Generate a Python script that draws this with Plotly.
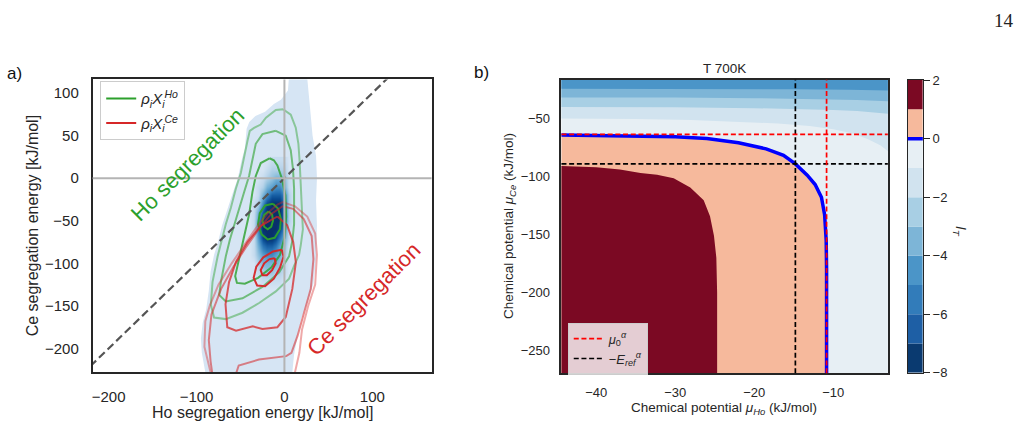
import plotly.graph_objects as go

W, H = 1020, 433
FONT = "Liberation Sans, Arial, sans-serif"
INK = "#262626"

# ---------------- panel a) data (kJ/mol) ----------------
A_XRANGE = [-218.2, 167.4]
A_YRANGE = [-227.5, 116.0]
A_XTICKS = [-200, -100, 0, 100]
A_YTICKS = [-200, -150, -100, -50, 0, 50, 100]
DIAG_X = [-260, 200]                      # reference line y = x

# outline of the populated histogram region
BLOB = [(5, 117), (4, 103), (-4, 92), (-12, 87), (-22, 78), (-33, 73), (-40, 66), (-43, 58),
        (-45, 35), (-49, 20), (-53, 0), (-59, -18), (-65, -37), (-71, -56), (-75, -73),
        (-80, -90), (-84, -110), (-86, -132), (-89, -154), (-93, -170), (-95, -188),
        (-94, -205), (-90, -228), (-90, -235), (9, -235), (9, -228), (11, -207), (15, -185),
        (19, -165), (26, -147), (33, -124), (36, -94), (37, -56), (36, -26), (37, 0),
        (36, 26), (32, 50), (30, 73), (28, 95), (26, 117)]

# dense core of the histogram (relative density, 0..10)
CORE_X = [-45, -40, -35, -30, -25, -20, -15, -10, -5, 0, 5, 10]
CORE_Y = [20, 10, 0, -10, -20, -30, -40, -50, -60, -70, -80, -90, -100, -110, -120, -130]
CORE_Z = [
    [0, 0, 0, 0, 0, 0, 1, 1, 1, 1, 0, 0],
    [0, 0, 0, 0, 0, 1, 2, 2, 2, 2, 0, 0],
    [0, 0, 0, 0, 1, 2, 3, 4, 4, 3, 1, 0],
    [0, 0, 0, 1, 2, 4, 5, 6, 6, 4, 1, 0],
    [0, 0, 0, 1, 4, 6, 8, 8, 8, 6, 2, 0],
    [0, 0, 1, 2, 6, 9, 10, 10, 10, 7, 2, 0],
    [0, 0, 1, 4, 8, 10, 10, 10, 10, 7, 2, 0],
    [0, 0, 1, 5, 10, 10, 10, 10, 10, 7, 2, 0],
    [0, 0, 1, 6, 10, 10, 10, 10, 9, 6, 1, 0],
    [0, 0, 1, 5, 9, 10, 10, 9, 7, 4, 1, 0],
    [0, 0, 1, 4, 7, 8, 8, 7, 5, 3, 0, 0],
    [0, 0, 1, 3, 5, 6, 6, 5, 4, 2, 0, 0],
    [0, 0, 0, 2, 4, 4, 4, 4, 3, 1, 0, 0],
    [0, 0, 0, 1, 2, 3, 3, 2, 2, 1, 0, 0],
    [0, 0, 0, 0, 1, 1, 1, 1, 1, 0, 0, 0],
    [0, 0, 0, 0, 0, 0, 0, 0, 0, 0, 0, 0],
]

# KDE contour lines of rho_i X_i^Ho (outer -> inner)
HO_C1 = [(-1.5, 81), (-9.8, 80), (-21, 71), (-27, 63), (-34.5, 59), (-39.4, 55.6), (-42, 44),
         (-45.8, 25), (-49.6, 6), (-55.3, -12.5), (-61, -35), (-66.7, -54), (-72.3, -78.6),
         (-76, -92), (-81.8, -122), (-83.7, -148.5), (-80, -163.6), (-66.7, -165.5),
         (-47.7, -158), (-28.8, -146.6), (-9.8, -133), (5.3, -118), (11, -103), (16.7, -90),
         (18.6, -78.6), (21, -60), (20.5, -50), (19.7, -27.6), (18.6, -4.9), (17.4, 17.8),
         (15.9, 40.4), (12.9, 59.3), (7.2, 74.5), (-1.5, 81)]
HO_C2 = [(-9.8, 55.6), (-25, 51.8), (-32.6, 40.4), (-36.4, 21.5), (-40.2, 2.6), (-45.8, -16.3),
         (-51.5, -35.1), (-57.2, -54), (-62, -72), (-66.7, -91.8), (-72.3, -122), (-74.2, -137),
         (-66.7, -144.7), (-47.7, -141), (-25, -127.7), (-6, -110.7), (5.3, -91.8), (9.1, -73),
         (11, -54), (11, -35), (11, -12.5), (9.8, 10.2), (7.2, 32.9), (1.5, 49.9), (-9.8, 55.6)]
HO_C3 = [(-17, 23.4), (-26.9, 17.8), (-32.6, 2.6), (-36.4, -16.3), (-40.2, -42.7), (-46, -70),
         (-52, -95), (-56, -115), (-54, -123), (-45, -124), (-30, -117), (-15, -105), (-5, -90),
         (0, -70), (2, -45), (1, -20), (-3, 0), (-8, 15), (-12, 21), (-17, 23.4)]
HO_C4 = [(-13, -30), (-7, -36), (-4, -48), (-5, -60), (-11, -70), (-19, -72), (-26, -66),
         (-30, -54), (-28, -41), (-22, -32), (-13, -30)]
HO_C5 = [(-18, -39), (-14, -43), (-13, -50), (-15, -57), (-19, -60), (-23, -57), (-25, -50),
         (-23, -43), (-18, -39)]

# KDE contour lines of rho_i X_i^Ce (outer -> inner)
CE_C1 = [(-84, -245), (-84, -228), (-91, -198), (-90, -168), (-85, -150), (-75, -125), (-60, -100),
         (-45, -78), (-30, -55), (-18, -40), (-8, -31), (-2, -28), (12, -33), (26, -45), (35, -65),
         (37, -90), (35, -125), (27, -150), (20, -178), (17, -205), (12, -228), (10, -245)]
CE_C2 = [(-80, -245), (-84, -215), (-86, -190), (-83, -160), (-72, -130), (-58, -104), (-43, -80),
         (-28, -58), (-15, -42), (-2, -33), (10, -36), (22, -48), (31, -68), (33, -95), (30, -130),
         (22, -160), (15, -185), (8, -205), (2, -209), (-29, -213), (-52, -220), (-60, -245)]
CE_C3 = [(-8, -45), (3, -55), (10, -75), (13, -99), (9, -130), (1.5, -163), (-8, -175), (-25, -177),
         (-36, -174), (-55, -179), (-65, -175), (-67, -148), (-63, -122), (-55, -98), (-42, -75),
         (-27, -56), (-8, -45)]
CE_C4 = [(-3, -84), (-1, -92), (-5, -105), (-12, -118), (-22, -127), (-31, -126), (-35, -117),
         (-32, -104), (-24, -93), (-13, -86), (-3, -84)]
CE_C5 = [(-11, -94), (-10, -100), (-14, -108), (-20, -114), (-25, -114), (-27, -108), (-23, -100),
         (-17, -95), (-11, -94)]

HO_ALPHA = [0.45, 0.6, 0.8, 0.95, 1.0]
CE_ALPHA = [0.4, 0.55, 0.75, 0.95, 1.0]

# ---------------- panel b) data (kJ/mol) ----------------
B_XRANGE = [-44.4, -3.1]
B_YRANGE = [-269.3, -16.8]
B_XTICKS = [-40, -30, -20, -10]
B_YTICKS = [-250, -200, -150, -100, -50]
MU0 = {"Ho": -10.85, "Ce": -63.9}      # mu_0^alpha
EREF = {"Ho": -14.8, "Ce": -89.3}      # -E_ref^alpha

# contour lines of I_T
IT_P1 = [(-46, -90.9), (-44.4, -91), (-40, -92.2), (-37, -94), (-34.4, -97), (-32.3, -98.6),
         (-30.2, -101.7), (-28.1, -109.5), (-26.4, -120.5), (-25.6, -134.4), (-25.1, -151),
         (-24.8, -170), (-24.7, -200), (-24.7, -280)]
IT_0 = [(-46, -64.2), (-44.4, -64.3), (-40, -64.6), (-35, -65.1), (-30, -65.9), (-26, -67.4),
        (-22, -71), (-18.5, -76.3), (-16.3, -81.8), (-14.8, -89.3), (-13.3, -99), (-12.3, -107),
        (-11.5, -118), (-11.1, -133), (-10.9, -155), (-10.85, -180), (-10.85, -280)]
IT_M1 = [(-46, -50), (-44.4, -50), (-35, -50.6), (-28, -51.5), (-22, -52.8), (-17, -54.5),
         (-13, -56.7), (-10, -59.5), (-7.5, -63), (-5.6, -68), (-4, -73.5), (-3.1, -78), (-2, -84)]
IT_M2 = [(-46, -40.3), (-44.4, -40.3), (-30, -40.6), (-20, -41.3), (-14, -42), (-10, -42.8),
         (-7, -43.8), (-5, -44.8), (-3.1, -46), (-2, -46.8)]
IT_M3 = [(-46, -32), (-44.4, -32), (-30, -32.2), (-20, -32.7), (-12, -33.4), (-7, -34.2),
         (-3.1, -35.3), (-2, -35.6)]
IT_M4 = [(-46, -24.5), (-44.4, -24.5), (-25, -24.7), (-15, -25), (-8, -25.5), (-3.1, -26.1),
         (-2, -26.3)]

# colour levels of I_T
LEVELS = [-8, -7, -6, -5, -4, -3, -2, -1, 0, 1, 2]
LEVEL_COLORS = ["rgb(10,58,112)", "rgb(30,95,165)", "rgb(50,124,186)", "rgb(75,149,200)",
                "rgb(125,181,215)", "rgb(168,207,228)", "rgb(209,227,239)", "rgb(231,239,244)",
                "rgb(246,185,156)", "rgb(123,9,35)"]
CB_TICKS = [-8, -6, -4, -2, 0, 2]


def px(x):
    return x / W


def py(y):
    return 1 - y / H


def col(p, i):
    return [q[i] for q in p]


def lvl_color(lo):
    return LEVEL_COLORS[LEVELS.index(lo)]


fig = go.Figure()

# ---------- panel a ----------
blob_path = "M " + " L ".join(f"{x},{y}" for x, y in BLOB) + " Z"
fig.add_shape(type="path", path=blob_path, xref="x", yref="y", fillcolor="rgb(214,229,244)",
              line=dict(width=0), layer="below")
order = sorted(range(len(CORE_Y)), key=lambda i: CORE_Y[i])
fig.add_trace(go.Heatmap(x=CORE_X, y=[CORE_Y[i] for i in order], z=[CORE_Z[i] for i in order],
                         zmin=0, zmax=10, zsmooth="best", showscale=False, hoverinfo="skip",
                         colorscale=[[0, "rgb(214,229,244)"], [0.15, "rgb(190,215,236)"],
                                     [0.3, "rgb(150,196,223)"], [0.45, "rgb(105,170,212)"],
                                     [0.6, "rgb(66,140,195)"], [0.75, "rgb(33,107,175)"],
                                     [0.88, "rgb(10,75,145)"], [1, "rgb(8,48,107)"]],
                         xaxis="x", yaxis="y"))

for shp in [dict(x0=0, x1=0, y0=0, y1=1, xref="x", yref="y domain"),
            dict(x0=0, x1=1, y0=0, y1=0, xref="x domain", yref="y")]:
    fig.add_shape(type="line", line=dict(color="#b4b4b4", width=2), layer="above", **shp)

for i, c in enumerate([HO_C1, HO_C2, HO_C3, HO_C4, HO_C5]):
    fig.add_trace(go.Scatter(x=col(c, 0), y=col(c, 1), mode="lines",
                             line=dict(color=f"rgba(44,160,44,{HO_ALPHA[i]})", width=2),
                             name="<i>ρ<sub>i</sub>X<sub>i</sub><sup>Ho</sup></i>",
                             showlegend=(i == 4), legend="legend", legendgroup="ho",
                             hoverinfo="skip", xaxis="x", yaxis="y"))
for i, c in enumerate([CE_C1, CE_C2, CE_C3, CE_C4, CE_C5]):
    fig.add_trace(go.Scatter(x=col(c, 0), y=col(c, 1), mode="lines",
                             line=dict(color=f"rgba(214,39,40,{CE_ALPHA[i]})", width=2),
                             name="<i>ρ<sub>i</sub>X<sub>i</sub><sup>Ce</sup></i>",
                             showlegend=(i == 4), legend="legend", legendgroup="ce",
                             hoverinfo="skip", xaxis="x", yaxis="y"))

fig.add_trace(go.Scatter(x=DIAG_X, y=DIAG_X, mode="lines",
                         line=dict(color="#555555", width=2.2, dash="8px,4px"),
                         showlegend=False, hoverinfo="skip", xaxis="x", yaxis="y"))

# ---------- panel b ----------
fig.add_shape(type="rect", xref="x2 domain", yref="y2 domain", x0=0, x1=1, y0=0, y1=1,
              fillcolor=lvl_color(-1), line=dict(width=0), layer="below")
top = B_YRANGE[1] + 10
for c, lo in [(IT_M1, -2), (IT_M2, -3), (IT_M3, -4), (IT_M4, -5)]:
    xs = col(c, 0) + [c[-1][0], c[0][0]]
    ys = col(c, 1) + [top, top]
    fig.add_trace(go.Scatter(x=xs, y=ys, mode="lines", fill="toself", fillcolor=lvl_color(lo),
                             line=dict(width=0), showlegend=False, hoverinfo="skip",
                             xaxis="x2", yaxis="y2"))
for c, lo in [(IT_0, 0), (IT_P1, 1)]:
    xs = col(c, 0) + [c[0][0]]
    ys = col(c, 1) + [c[-1][1]]
    fig.add_trace(go.Scatter(x=xs, y=ys, mode="lines", fill="toself", fillcolor=lvl_color(lo),
                             line=dict(width=0), showlegend=False, hoverinfo="skip",
                             xaxis="x2", yaxis="y2"))
fig.add_trace(go.Scatter(x=col(IT_0, 0), y=col(IT_0, 1), mode="lines",
                         line=dict(color="#0000ff", width=3.5), showlegend=False,
                         hoverinfo="skip", xaxis="x2", yaxis="y2"))

DASH = "5px,2.7px"
for key, color, name in [("EREF", "#000000", "−<i>E</i><sub><i>ref</i></sub><sup><i>α</i></sup>"),
                         ("MU0", "#ff0000", "<i>μ</i><sub>0</sub><sup><i>α</i></sup>")]:
    vals = EREF if key == "EREF" else MU0
    fig.add_shape(type="line", xref="x2", yref="y2 domain", x0=vals["Ho"], x1=vals["Ho"], y0=0, y1=1,
                  line=dict(color=color, width=1.7, dash=DASH), layer="above")
    fig.add_shape(type="line", xref="x2 domain", yref="y2", x0=0, x1=1, y0=vals["Ce"], y1=vals["Ce"],
                  line=dict(color=color, width=1.7, dash=DASH), layer="above",
                  showlegend=True, name=name, legend="legend2",
                  legendrank=(1 if key == "MU0" else 2))

# ---------- colourbar ----------
fig.add_trace(go.Bar(x=[0] * (len(LEVELS) - 1), y=[LEVELS[i + 1] - LEVELS[i] for i in range(len(LEVELS) - 1)],
                     base=LEVELS[:-1], marker=dict(color=LEVEL_COLORS, line=dict(width=0)),
                     width=1, showlegend=False, hoverinfo="skip", xaxis="x3", yaxis="y3"))
fig.add_shape(type="line", xref="x3 domain", yref="y3", x0=0, x1=1, y0=0, y1=0,
              line=dict(color="#0000ff", width=3.5), layer="above")

axis_common = dict(showgrid=False, zeroline=False, showline=True, mirror=True,
                   linecolor=INK, linewidth=1.6, ticks="outside", tickcolor="rgba(0,0,0,0)")

fig.update_layout(
    width=W, height=H, margin=dict(l=0, r=0, t=0, b=0),
    paper_bgcolor="white", plot_bgcolor="rgba(0,0,0,0)",
    barmode="overlay",
    xaxis=dict(domain=[px(91.7), px(431)], range=A_XRANGE, tickvals=A_XTICKS, anchor="y",
               ticklen=10, tickfont=dict(family=FONT, color=INK, size=15), **axis_common),
    yaxis=dict(domain=[py(378), py(75)], range=A_YRANGE, tickvals=A_YTICKS, anchor="x",
               ticklen=9, tickfont=dict(family=FONT, color=INK, size=15), **axis_common),
    xaxis2=dict(domain=[px(561), px(887.7)], range=B_XRANGE, tickvals=B_XTICKS, anchor="y2",
                ticklen=6, tickfont=dict(family=FONT, color=INK, size=13), **axis_common),
    yaxis2=dict(domain=[py(379.3), py(75.3)], range=B_YRANGE, tickvals=B_YTICKS, anchor="x2",
                ticklen=7, tickfont=dict(family=FONT, color=INK, size=13), **axis_common),
    xaxis3=dict(domain=[px(907.7), px(922.7)], range=[-0.5, 0.5], anchor="y3",
                showticklabels=False, showgrid=False, zeroline=False, showline=True,
                mirror=True, linecolor=INK, linewidth=1.4, ticks=""),
    yaxis3=dict(domain=[py(379), py(75.7)], range=[LEVELS[0], LEVELS[-1]], anchor="x3",
                side="right", tickvals=CB_TICKS, ticks="outside", ticklen=6, tickwidth=1.2,
                tickcolor=INK, showgrid=False, zeroline=False, showline=True, mirror=True,
                linecolor=INK, linewidth=1.4, tickfont=dict(family=FONT, color=INK, size=13)),
    legend=dict(x=px(99.3), y=py(77), xanchor="left", yanchor="top",
                bgcolor="rgba(255,255,255,0.85)", bordercolor="#cccccc", borderwidth=1,
                font=dict(family=FONT, size=15, color=INK), tracegroupgap=2),
    legend2=dict(x=px(567.3), y=py(327), xanchor="left", yanchor="top",
                 bgcolor="rgba(255,255,255,0.8)", bordercolor="#cccccc", borderwidth=1,
                 font=dict(family=FONT, size=13, color=INK)),
)

ann = [
    dict(text="Ho segregation energy [kJ/mol]", x=px(261.4), y=py(420), size=16, angle=0),
    dict(text="Ce segregation energy [kJ/mol]", x=px(31.7), y=py(226.5), size=16, angle=-90),
    dict(text="Chemical potential <i>μ<sub>Ho</sub></i> (kJ/mol)", x=px(724), y=py(416), size=13.5, angle=0),
    dict(text="Chemical potential <i>μ<sub>Ce</sub></i> (kJ/mol)", x=px(509), y=py(227.5), size=13.5, angle=-90),
    dict(text="T 700K", x=px(724), y=py(64), size=13.5, angle=0),
    dict(text="<i>I<sub>T</sub></i>", x=px(960), y=py(232), size=14, angle=90),
]
for a in ann:
    fig.add_annotation(text=a["text"], x=a["x"], y=a["y"], xref="paper", yref="paper",
                       showarrow=False, textangle=a["angle"], xanchor="center", yanchor="middle",
                       font=dict(family=FONT, size=a["size"], color=INK))

fig.add_annotation(text="a)", x=px(4), y=py(69), xref="paper", yref="paper", showarrow=False,
                   xanchor="left", yanchor="middle", font=dict(family=FONT, size=17, color="#111"))
fig.add_annotation(text="b)", x=px(471), y=py(68), xref="paper", yref="paper", showarrow=False,
                   xanchor="left", yanchor="middle", font=dict(family=FONT, size=17, color="#111"))
fig.add_annotation(text="14", x=px(1004.3), y=py(13.7), xref="paper", yref="paper", showarrow=False,
                   xanchor="center", yanchor="middle",
                   font=dict(family="Liberation Serif, Times New Roman, serif", size=19, color="#222"))

fig.add_annotation(text="Ho segregation", x=-110.2, y=15.9, xref="x", yref="y", showarrow=False,
                   textangle=-45, font=dict(family=FONT, size=22, color="#2ca02c"))
fig.add_annotation(text="Ce segregation", x=89.5, y=-142, xref="x", yref="y", showarrow=False,
                   textangle=-45, font=dict(family=FONT, size=22, color="#d62728"))

fig.write_html("out.html")
